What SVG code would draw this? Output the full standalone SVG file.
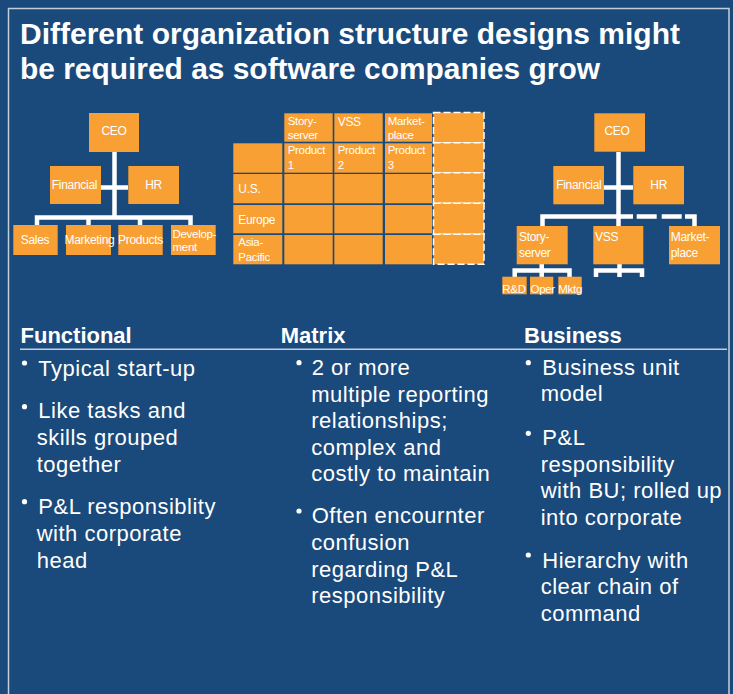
<svg xmlns="http://www.w3.org/2000/svg" width="733" height="694" viewBox="0 0 733 694">
  <style>
    .bg { fill: #1a497b; }
    .frame { fill: none; stroke: #c3cedb; stroke-width: 1.5; }
    .title { font-family: "Liberation Sans", Arial, sans-serif; font-weight: bold; font-size: 29px; fill: #ffffff; }
    .box { fill: #f8a033; }
    .dbox { fill: #f8a033; stroke: #ffffff; stroke-width: 1.5; stroke-dasharray: 7 3; }
    .lbl { font-family: "Liberation Sans", Arial, sans-serif; font-size: 12px; letter-spacing: -0.3px; fill: #ffffff; }
    .two { font-size: 11.5px; }
    .sm { font-size: 11.5px; }
    .mid { text-anchor: middle; }
    .conn { fill: none; stroke: #ffffff; stroke-width: 4.5; stroke-linejoin: miter; }
    .dashc { fill: none; stroke: #ffffff; stroke-width: 4.5; stroke-dasharray: 20 5; }
    .head { font-family: "Liberation Sans", Arial, sans-serif; font-weight: bold; font-size: 22px; fill: #ffffff; }
    .rule { stroke: #c3cedb; stroke-width: 1.4; }
    .body { font-family: "Liberation Sans", Arial, sans-serif; font-size: 22px; letter-spacing: 0.5px; fill: #ffffff; }
    .dot { fill: #ffffff; }
  </style>

  <!-- background and frame -->
  <rect class="bg" x="0" y="0" width="733" height="694"/>
  <path class="frame" d="M8.5,694 V8.5 H729 V694"/>

  <!-- title -->
  <g id="title">
    <text class="title" x="20" y="43.5" textLength="660" lengthAdjust="spacingAndGlyphs">Different organization structure designs might</text>
    <text class="title" x="20" y="78.5" textLength="580" lengthAdjust="spacingAndGlyphs">be required as software companies grow</text>
  </g>

  <!-- connectors -->
  <g id="connectors">
    <!-- functional chart -->
    <path class="conn" d="M114.5,152 V217.5"/>
    <path class="conn" d="M101,187.5 H128"/>
    <path class="conn" d="M37,225 V217.5 H190.5 V225"/>
    <path class="conn" d="M88.5,217.5 V225"/>
    <path class="conn" d="M140,217.5 V225"/>
    <!-- business chart -->
    <path class="conn" d="M618.5,152 V226"/>
    <path class="conn" d="M604,187.5 H633"/>
    <path class="conn" d="M542.5,226 V216.5 H633"/>
    <path class="dashc" d="M636.7,216.5 H681.7"/>
    <path class="conn" d="M685,216.5 H694.5 V226"/>
    <path class="conn" d="M541.7,264 V277"/>
    <path class="conn" d="M514.7,277 V270.5 H569.5 V277"/>
    <path class="conn" d="M619.5,264 V277"/>
    <path class="conn" d="M596,277 V270.5 H642 V277"/>
  </g>

  <!-- functional organisation -->
  <g id="f-ceo"><rect class="box" x="89" y="113" width="50" height="39"/><text class="lbl mid" x="114" y="135">CEO</text></g>
  <g id="f-financial"><rect class="box" x="50" y="166" width="51" height="38"/><text class="lbl mid" x="74.5" y="189">Financial</text></g>
  <g id="f-hr"><rect class="box" x="128.3" y="166" width="50.7" height="38"/><text class="lbl mid" x="153.5" y="189">HR</text></g>
  <g id="f-sales"><rect class="box" x="13.3" y="225" width="44.4" height="30"/><text class="lbl mid" x="35" y="244">Sales</text></g>
  <g id="f-marketing"><rect class="box" x="66" y="225" width="45" height="30"/><text class="lbl mid" x="89.5" y="244">Marketing</text></g>
  <g id="f-products"><rect class="box" x="118.3" y="225" width="44.4" height="30"/><text class="lbl mid" x="140.5" y="244">Products</text></g>
  <g id="f-development"><rect class="box" x="171" y="225" width="44.7" height="30"/><text class="lbl two" x="172.5" y="237.5">Develop-</text><text class="lbl two" x="172.5" y="250.8">ment</text></g>

  <!-- matrix organisation -->
  <g id="m-storyserver"><rect class="box" x="284.3" y="113.3" width="48.4" height="28.4"/><text class="lbl two" x="287.7" y="125.3">Story-</text><text class="lbl two" x="287.7" y="138.6">server</text></g>
  <g id="m-vss"><rect class="box" x="334.3" y="113.3" width="48.4" height="28.4"/><text class="lbl" x="337.7" y="126">VSS</text></g>
  <g id="m-marketplace"><rect class="box" x="385" y="113.3" width="47" height="28.4"/><text class="lbl two" x="387.7" y="125.3">Market-</text><text class="lbl two" x="387.7" y="138.6">place</text></g>

  <g id="m-corner"><rect class="box" x="233.3" y="143.3" width="49" height="29.4"/></g>
  <g id="m-product1"><rect class="box" x="284.3" y="143.3" width="48.4" height="29.4"/><text class="lbl two" x="287.7" y="154.3">Product</text><text class="lbl two" x="287.7" y="168.5">1</text></g>
  <g id="m-product2"><rect class="box" x="334.3" y="143.3" width="48.4" height="29.4"/><text class="lbl two" x="337.7" y="154.3">Product</text><text class="lbl two" x="337.7" y="168.5">2</text></g>
  <g id="m-product3"><rect class="box" x="385" y="143.3" width="47" height="29.4"/><text class="lbl two" x="387.7" y="154.3">Product</text><text class="lbl two" x="387.7" y="168.5">3</text></g>

  <g id="m-us"><rect class="box" x="233.3" y="174" width="49" height="29.3"/><text class="lbl" x="238.3" y="193.3">U.S.</text></g>
  <g id="m-us-cells">
    <rect class="box" x="284.3" y="174" width="48.4" height="29.3"/>
    <rect class="box" x="334.3" y="174" width="48.4" height="29.3"/>
    <rect class="box" x="385" y="174" width="47" height="29.3"/>
  </g>
  <g id="m-europe"><rect class="box" x="233.3" y="205" width="49" height="28.3"/><text class="lbl" x="238.3" y="224">Europe</text></g>
  <g id="m-europe-cells">
    <rect class="box" x="284.3" y="205" width="48.4" height="28.3"/>
    <rect class="box" x="334.3" y="205" width="48.4" height="28.3"/>
    <rect class="box" x="385" y="205" width="47" height="28.3"/>
  </g>
  <g id="m-asiapacific"><rect class="box" x="233.3" y="235" width="49" height="29.3"/><text class="lbl two" x="238.3" y="246.3">Asia-</text><text class="lbl two" x="238.3" y="260.7">Pacific</text></g>
  <g id="m-asiapacific-cells">
    <rect class="box" x="284.3" y="235" width="48.4" height="29.3"/>
    <rect class="box" x="334.3" y="235" width="48.4" height="29.3"/>
    <rect class="box" x="385" y="235" width="47" height="29.3"/>
  </g>
  <g id="m-future-column">
    <rect class="dbox" x="433.5" y="112.5" width="50.5" height="30.2"/>
    <rect class="dbox" x="433.5" y="142.7" width="50.5" height="30"/>
    <rect class="dbox" x="433.5" y="172.7" width="50.5" height="30.6"/>
    <rect class="dbox" x="433.5" y="203.3" width="50.5" height="31"/>
    <rect class="dbox" x="433.5" y="234.3" width="50.5" height="30"/>
  </g>

  <!-- business-unit organisation -->
  <g id="b-ceo"><rect class="box" x="594.3" y="113.3" width="50.7" height="38.4"/><text class="lbl mid" x="617" y="135">CEO</text></g>
  <g id="b-financial"><rect class="box" x="553.3" y="166" width="50.7" height="38.3"/><text class="lbl mid" x="578.8" y="189">Financial</text></g>
  <g id="b-hr"><rect class="box" x="633.3" y="166" width="50.7" height="38.3"/><text class="lbl mid" x="658.7" y="189">HR</text></g>
  <g id="b-storyserver"><rect class="box" x="516.7" y="226" width="51" height="38.3"/><text class="lbl" x="519" y="240.5">Story-</text><text class="lbl" x="519" y="256.7">server</text></g>
  <g id="b-vss"><rect class="box" x="593.3" y="226" width="50" height="38.3"/><text class="lbl" x="595" y="240.5">VSS</text></g>
  <g id="b-marketplace"><rect class="box" x="669" y="226" width="51" height="38.3"/><text class="lbl" x="670.7" y="240.5">Market-</text><text class="lbl" x="670.7" y="256.7">place</text></g>
  <g id="b-rd"><rect class="box" x="502.3" y="276.7" width="24.4" height="17.6"/><text class="lbl sm" x="502.3" y="292.5">R&amp;D</text></g>
  <g id="b-oper"><rect class="box" x="530" y="276.7" width="23.3" height="17.6"/><text class="lbl sm" x="530.5" y="292.5">Oper</text></g>
  <g id="b-mktg"><rect class="box" x="558.3" y="276.7" width="23.4" height="17.6"/><text class="lbl sm" x="558.3" y="292.5">Mktg</text></g>

  <!-- column headings -->
  <g id="headings">
    <text class="head" x="20.5" y="343">Functional</text>
    <text class="head" x="280.7" y="343">Matrix</text>
    <text class="head" x="524" y="343">Business</text>
    <line class="rule" x1="20" y1="349.3" x2="727" y2="349.3"/>
  </g>

  <!-- functional notes -->
  <g id="notes-functional">
    <circle class="dot" cx="24.5" cy="363" r="2.6"/>
    <text class="body" x="38.3" y="376">Typical start-up</text>
    <circle class="dot" cx="24.5" cy="406.7" r="2.6"/>
    <text class="body" x="38.3" y="418">Like tasks and</text>
    <text class="body" x="36.7" y="445">skills grouped</text>
    <text class="body" x="36.7" y="471.5">together</text>
    <circle class="dot" cx="24.5" cy="501.7" r="2.6"/>
    <text class="body" x="38.3" y="513.5">P&amp;L responsiblity</text>
    <text class="body" x="36.7" y="540.5">with corporate</text>
    <text class="body" x="36.7" y="567.5">head</text>
  </g>

  <!-- matrix notes -->
  <g id="notes-matrix">
    <circle class="dot" cx="299" cy="362.7" r="2.6"/>
    <text class="body" x="311.7" y="375">2 or more</text>
    <text class="body" x="311.2" y="401.6">multiple reporting</text>
    <text class="body" x="311.2" y="428.2">relationships;</text>
    <text class="body" x="311.2" y="454.8">complex and</text>
    <text class="body" x="311.2" y="481.4">costly to maintain</text>
    <circle class="dot" cx="299" cy="511" r="2.6"/>
    <text class="body" x="311.7" y="523.3">Often encournter</text>
    <text class="body" x="311.2" y="550">confusion</text>
    <text class="body" x="311.2" y="576.6">regarding P&amp;L</text>
    <text class="body" x="311.2" y="603.2">responsibility</text>
  </g>

  <!-- business notes -->
  <g id="notes-business">
    <circle class="dot" cx="528.3" cy="362.7" r="2.6"/>
    <text class="body" x="542.3" y="375">Business unit</text>
    <text class="body" x="540.7" y="401">model</text>
    <circle class="dot" cx="528.3" cy="433.3" r="2.6"/>
    <text class="body" x="542.3" y="445">P&amp;L</text>
    <text class="body" x="540.7" y="471.6">responsibility</text>
    <text class="body" x="540.7" y="498.2">with BU; rolled up</text>
    <text class="body" x="540.7" y="524.8">into corporate</text>
    <circle class="dot" cx="528.3" cy="555" r="2.6"/>
    <text class="body" x="542.3" y="567.7">Hierarchy with</text>
    <text class="body" x="540.7" y="594.3">clear chain of</text>
    <text class="body" x="540.7" y="620.9">command</text>
  </g>
</svg>
